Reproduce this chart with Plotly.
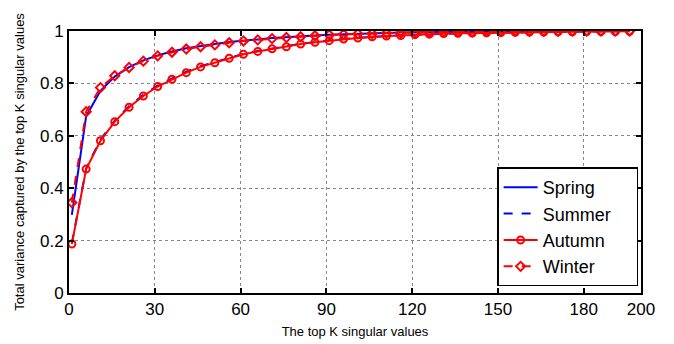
import plotly.graph_objects as go

K = list(range(1, 200, 5))  # 1, 6, ..., 196

spring = [0.298, 0.675, 0.772, 0.826, 0.862, 0.888, 0.907, 0.922, 0.934, 0.943,
          0.950, 0.958, 0.964, 0.968, 0.973, 0.977, 0.980, 0.983, 0.986, 0.988,
          0.990, 0.991, 0.993, 0.994, 0.995, 0.996, 0.997, 0.997, 0.998, 0.998,
          0.999, 0.999, 0.999, 0.999, 1.000, 1.000, 1.000, 1.000, 1.000, 1.000]

summer = [0.190, 0.476, 0.585, 0.658, 0.713, 0.756, 0.792, 0.820, 0.845, 0.866,
          0.882, 0.899, 0.913, 0.924, 0.934, 0.942, 0.951, 0.958, 0.964, 0.970,
          0.974, 0.978, 0.981, 0.984, 0.986, 0.988, 0.990, 0.991, 0.992, 0.993,
          0.994, 0.995, 0.996, 0.996, 0.997, 0.997, 0.998, 0.998, 0.998, 0.999]

autumn = [0.187, 0.473, 0.581, 0.654, 0.709, 0.752, 0.788, 0.816, 0.841, 0.863,
          0.879, 0.896, 0.911, 0.922, 0.932, 0.940, 0.950, 0.957, 0.963, 0.969,
          0.973, 0.978, 0.981, 0.983, 0.986, 0.988, 0.990, 0.991, 0.992, 0.993,
          0.994, 0.995, 0.996, 0.996, 0.997, 0.997, 0.998, 0.998, 0.998, 0.999]

winter = [0.345, 0.692, 0.784, 0.829, 0.861, 0.885, 0.905, 0.919, 0.931, 0.940,
          0.947, 0.955, 0.962, 0.966, 0.971, 0.975, 0.978, 0.982, 0.985, 0.987,
          0.989, 0.990, 0.992, 0.993, 0.994, 0.995, 0.996, 0.997, 0.997, 0.998,
          0.998, 0.999, 0.999, 0.999, 0.999, 1.000, 1.000, 1.000, 1.000, 1.000]

series_names = ["Spring", "Summer", "Autumn", "Winter"]
x_ticks = [0, 30, 60, 90, 120, 150, 180, 200]
y_ticks = [0, 0.2, 0.4, 0.6, 0.8, 1]
y_tick_labels = ["0", "0.2", "0.4", "0.6", "0.8", "1"]

FONT = "Liberation Sans, Arial, Helvetica, sans-serif"
PAD = "\u00a0" * 4  # invisible right padding inside the legend box

fig = go.Figure()
fig.add_trace(go.Scatter(x=K, y=spring, name=series_names[0] + PAD, mode="lines",
                         line=dict(color="#0000ff", width=2)))
fig.add_trace(go.Scatter(x=K, y=summer, name=series_names[1] + PAD, mode="lines",
                         line=dict(color="#0000ff", width=2, dash="dash")))
fig.add_trace(go.Scatter(x=K, y=autumn, name=series_names[2] + PAD, mode="lines+markers",
                         line=dict(color="#ff0000", width=2),
                         marker=dict(symbol="circle-open", size=7, color="#ff0000",
                                     line=dict(width=2, color="#ff0000"))))
fig.add_trace(go.Scatter(x=K, y=winter, name=series_names[3] + PAD, mode="lines+markers",
                         line=dict(color="#ff0000", width=2, dash="dash"),
                         marker=dict(symbol="diamond-open", size=7, color="#ff0000",
                                     line=dict(width=2, color="#ff0000"))))

axis_common = dict(
    showline=True, linecolor="black", linewidth=2, mirror="ticks",
    ticks="inside", ticklen=5, tickwidth=1.5, tickcolor="black",
    showgrid=True, gridcolor="#888888", gridwidth=1, griddash="dot",
    zeroline=False, automargin=False,
    tickfont=dict(family=FONT, size=17, color="black"),
)

fig.update_xaxes(range=[0, 200], tickvals=x_ticks,
                 title=dict(text="The top K singular values", standoff=8,
                            font=dict(family=FONT, size=13, color="black")),
                 **axis_common)
fig.update_yaxes(range=[0, 1], tickvals=y_ticks, ticktext=y_tick_labels,
                 title=dict(text="Total variance captured by the top K singular values",
                            standoff=12,
                            font=dict(family=FONT, size=13, color="black")),
                 **axis_common)

fig.update_layout(
    width=674, height=344,
    margin=dict(l=69, r=33, t=31, b=51),
    paper_bgcolor="white", plot_bgcolor="white",
    font=dict(family=FONT, color="black"),
    legend=dict(x=0.995, xanchor="right", y=0.025, yanchor="bottom",
                bgcolor="white", bordercolor="black", borderwidth=1.5,
                font=dict(family=FONT, size=18, color="black"),
                itemwidth=34,
                tracegroupgap=0),
)

fig.write_html("out.html")
